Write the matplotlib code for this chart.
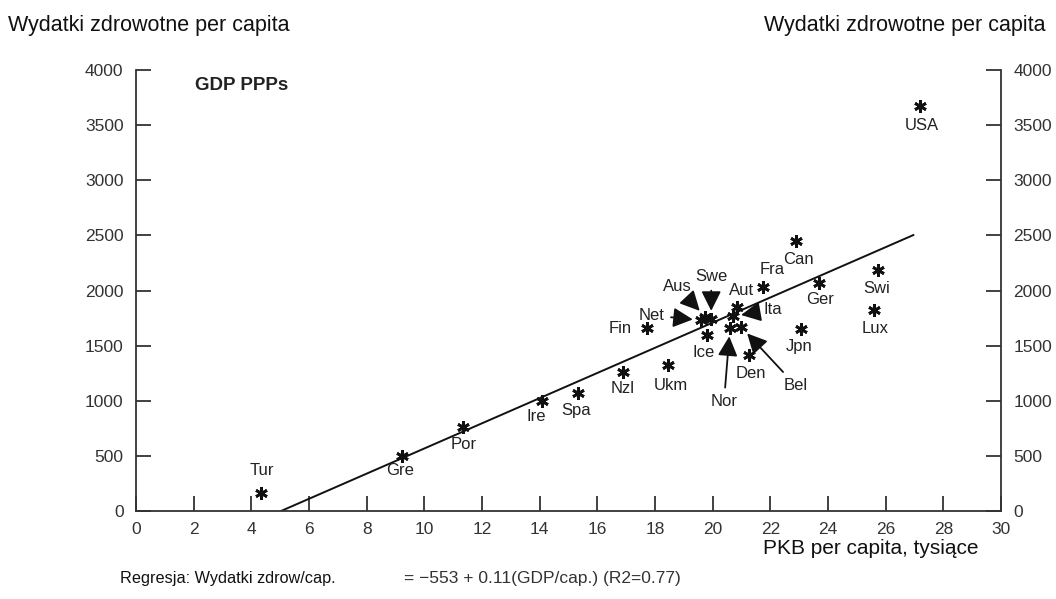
import numpy as np
import matplotlib
matplotlib.use("Agg")
import matplotlib.pyplot as plt

plt.rcParams['font.family'] = ['Liberation Sans', 'DejaVu Sans']

# ====================
# DATA
# ====================
countries = ["Tur", "Gre", "Por", "Ire", "Spa", "Nzl", "Ukm", "Fin", "Ice",
             "Net", "Aus", "Swe", "Aut", "Ita", "Nor", "Bel", "Den", "Fra",
             "Can", "Ger", "Jpn", "Lux", "Swi", "USA"]
gdp = [4.33, 9.22, 11.35, 14.07, 15.34, 16.88, 18.46, 17.71, 19.79,
       19.60, 19.75, 19.95, 20.84, 20.70, 20.60, 21.00, 21.27, 21.74,
       22.88, 23.70, 23.06, 25.61, 25.75, 27.19]
health = [166, 500, 765, 1000, 1067, 1264, 1324, 1657, 1596,
          1730, 1760, 1740, 1848, 1765, 1660, 1666, 1415, 2035,
          2452, 2071, 1648, 1823, 2186, 3673]

# regression line end points
reg_x = [5.03, 26.96]
reg_y = [0, 2503]

x_ticks = [0, 2, 4, 6, 8, 10, 12, 14, 16, 18, 20, 22, 24, 26, 28, 30]
y_ticks = [0, 500, 1000, 1500, 2000, 2500, 3000, 3500, 4000]

# label placement (offset in pixels from the marker)
plain_offsets = {
    "Tur": (1, 22), "Gre": (-2, -15), "Por": (0, -18), "Ire": (-5, -16),
    "Spa": (-2, -17), "Nzl": (0, -17), "Ukm": (3, -20), "Fin": (-26, 0),
    "Ice": (-3, -17), "Aut": (5, 17), "Den": (2, -18), "Fra": (9, 17),
    "Can": (3, -19), "Ger": (1, -17), "Jpn": (-2, -17), "Lux": (1, -18),
    "Swi": (-2, -18), "USA": (2, -19),
}
arrow_offsets = {
    "Aus": (-28, 30), "Swe": (0, 43), "Net": (-50, 5),
    "Ita": (40, 7), "Nor": (-6, -74), "Bel": (54, -58),
}

ink = "#111111"
axis_col = "#333333"

fig = plt.figure(figsize=(10.56, 5.99), dpi=100)
ax = fig.add_axes([0.1288, 0.1469, 0.8191, 0.7362])

ax.plot(reg_x, reg_y, color=ink, lw=1.4, zorder=2)
ax.plot(gdp, health, linestyle="none", marker=(6, 2, 0), markersize=9,
        mew=2.0, color=ink, zorder=3)

for name, x, y in zip(countries, gdp, health):
    if name in plain_offsets:
        ax.annotate(name, (x, y), xytext=plain_offsets[name],
                    textcoords="offset pixels", ha="center", va="center",
                    fontsize=12, color="#222222")
    else:
        ax.annotate(name, (x, y), xytext=arrow_offsets[name],
                    textcoords="offset pixels", ha="center", va="center",
                    fontsize=12, color="#222222",
                    arrowprops=dict(arrowstyle="-|>,head_length=0.8,head_width=0.4",
                                    color=ink, lw=1.3, mutation_scale=15,
                                    shrinkA=3, shrinkB=6))

ax.set_xlim(0, 30)
ax.set_ylim(0, 4000)
ax.set_xticks(x_ticks)
ax.set_yticks(y_ticks)
ax.spines["top"].set_visible(False)
for s in ["left", "right", "bottom"]:
    ax.spines[s].set_color(axis_col)
    ax.spines[s].set_linewidth(1.3)
ax.tick_params(axis="y", direction="in", length=11, width=1.3, color=axis_col,
               left=True, right=True, labelleft=True, labelright=True,
               labelsize=12.5, labelcolor="#333333", pad=9)
ax.tick_params(axis="x", direction="in", length=11, width=1.3, color=axis_col,
               labelsize=12.5, labelcolor="#333333", pad=8)

ax.text(0.068, 0.965, "GDP PPPs", transform=ax.transAxes, fontsize=13.5,
        fontweight="bold", color="#222222", va="center")

fig.text(0.0075, 0.958, "Wydatki zdrowotne per capita", fontsize=15.5,
         color=ink, va="center", ha="left")
fig.text(0.990, 0.958, "Wydatki zdrowotne per capita", fontsize=15.5,
         color=ink, va="center", ha="right")
fig.text(0.825, 0.085, "PKB per capita, tysiące", fontsize=15,
         color=ink, va="center", ha="center")
fig.text(0.1135, 0.035, "Regresja: Wydatki zdrow/cap.", fontsize=11.7,
         color=ink, va="center", ha="left")
fig.text(0.383, 0.035, "= \u2212553 + 0.11(GDP/cap.) (R2=0.77)", fontsize=12.5,
         color="#333333", va="center", ha="left")

fig.savefig("out.png", dpi=100)
